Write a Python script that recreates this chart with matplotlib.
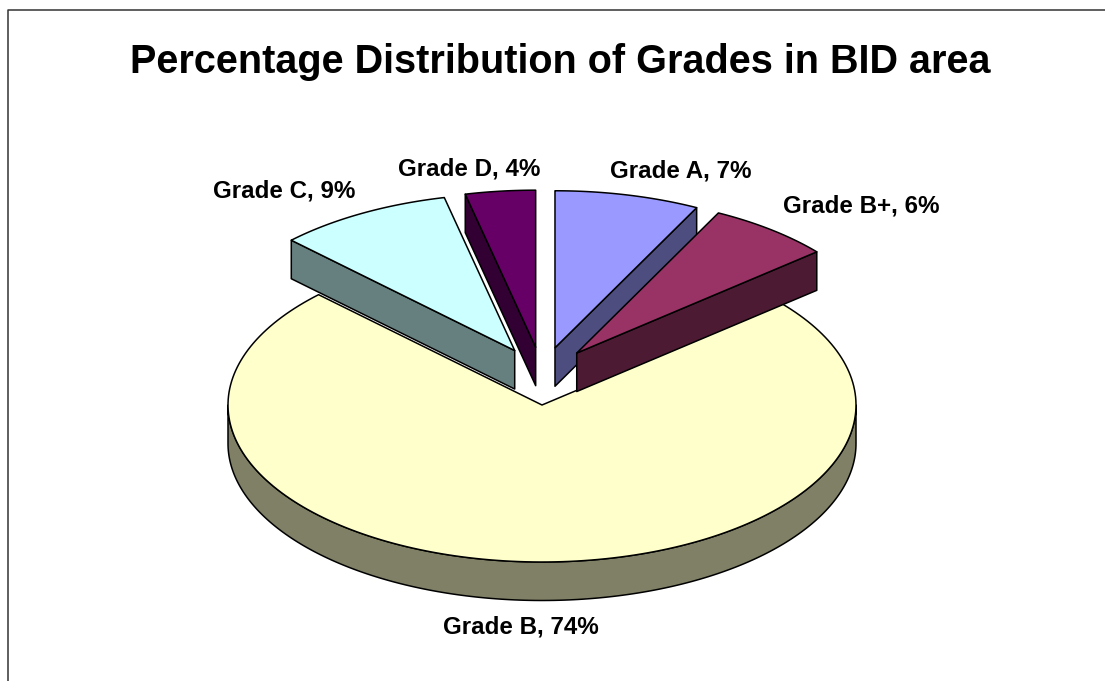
import numpy as np
import matplotlib
matplotlib.use('Agg')
import matplotlib.pyplot as plt
from matplotlib.patches import Polygon

# pie data, percent
grades = ['Grade A', 'Grade B+', 'Grade B', 'Grade C', 'Grade D']
values = [7.45, 6.4, 73.55, 9.0, 3.6]
exploded = [True, True, False, True, True]
top_colors = ['#9999FF', '#993366', '#FFFFCC', '#CCFFFF', '#660066']
side_colors = ['#4D4D80', '#4D1A33', '#808066', '#668080', '#330033']
label_pos = [(681, 171), (861, 206), (521, 627), (284, 191), (469, 169)]

plt.rcParams['font.family'] = ['Liberation Sans', 'DejaVu Sans']

# pie geometry in pixels
cx, cy = 542, 405
rx, ry = 314, 157
depth = 38.5
explode_x = 56
lw = 1.1

fig = plt.figure(figsize=(11.05, 6.81), dpi=100)
ax = fig.add_axes([0, 0, 1, 1])
ax.set_xlim(0, 1105)
ax.set_ylim(681, 0)
ax.axis('off')


def arc(x0, y0, t0, t1):
    # t in degrees, clockwise from 12 o'clock
    t = np.radians(np.linspace(t0, t1, 200))
    return np.column_stack([x0 + rx * np.sin(t), y0 - ry * np.cos(t)])


def poly(pts, color, z):
    ax.add_patch(Polygon(pts, closed=True, facecolor=color, edgecolor='black',
                         linewidth=lw, joinstyle='round', zorder=z))


edges = np.concatenate([[0], np.cumsum(values)]) * 360.0 / np.sum(values)

# Grade B goes first, exploded slices sit on top of it
order = [2, 3, 4, 0, 1]
for z, i in enumerate(order):
    t0, t1 = edges[i], edges[i + 1]
    mid = np.radians((t0 + t1) / 2)
    x0, y0 = cx, cy
    if exploded[i]:
        x0 += explode_x * np.sin(mid)
        # the lift barely falls off with angle in the 3d view
        y0 -= 30 + 28 * np.cos(mid)
    apex = np.array([x0, y0])
    down = np.array([0, depth])

    # outer wall, front half only
    a0, a1 = max(t0, 90), min(t1, 270)
    if a1 > a0:
        outer = arc(x0, y0, a0, a1)
        poly(np.vstack([outer, outer[::-1] + down]), side_colors[i], z)

    # radial wall facing the viewer
    if exploded[i]:
        t_wall = t1 if t1 < 180 else t0
        p = arc(x0, y0, t_wall, t_wall)[0]
        poly([apex, p, p + down, apex + down], side_colors[i], z)

    poly(np.vstack([apex, arc(x0, y0, t0, t1)]), top_colors[i], z)

    ax.text(label_pos[i][0], label_pos[i][1], '%s, %d%%' % (grades[i], round(values[i])),
            ha='center', va='center', fontsize=17.4, fontweight='bold', color='black')

ax.text(560, 62, 'Percentage Distribution of Grades in BID area', ha='center', va='center',
        fontsize=28.5, fontweight='bold', color='black')

# chart frame, only left and top fall inside the picture
ax.plot([8, 8, 1105], [681, 10, 10], color='#333333', linewidth=lw, zorder=20)

fig.savefig('out.png', dpi=100)
